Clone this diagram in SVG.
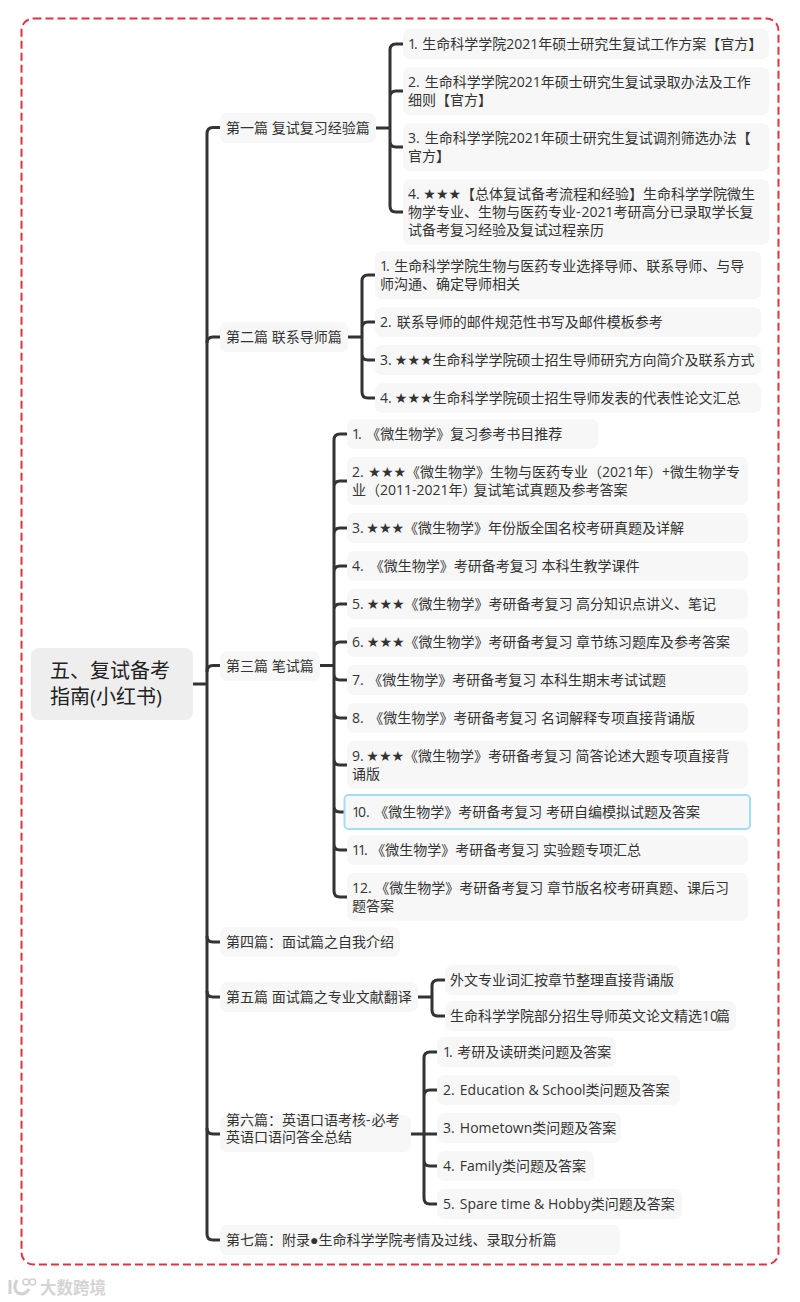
<svg xmlns="http://www.w3.org/2000/svg" width="800" height="1302" viewBox="0 0 800 1302">
<style>
text{font-family:"Open Sans","Noto Sans CJK SC",sans-serif;font-size:14px;fill:#333}
.n{fill:#f7f7f7}
.c{fill:none;stroke:#333;stroke-width:3;stroke-linecap:butt}
.root{font-size:20px;fill:#222}
.s{font-family:"DejaVu Sans",sans-serif}
.d{font-family:"Liberation Sans",sans-serif}
.t{letter-spacing:-2px}
</style>
<rect x="0" y="0" width="800" height="1302" fill="#fff"/>
<rect x="21.500" y="18.500" width="757" height="1246" rx="12" fill="none" stroke="#e0323f" stroke-width="2" stroke-dasharray="8 4"/>
<g id="connectors">
<path class="c" d="M193 684H207M220 127.500H213Q207 127.500 207 134V1234Q207 1240 213 1240H220"/>
<path class="c" d="M207 343Q207 337 213 337H220M207 672Q207 665.500 213 665.500H220M207 936Q207 942 213 942H220M207 991Q207 997 213 997H220M207 1128Q207 1134 213 1134H220"/>
<path class="c" d="M376 128H390M403 44H396Q390 44 390 50V206Q390 212 396 212H403M390 97Q390 91 396 91H403M390 141Q390 147 396 147H403"/>
<path class="c" d="M348 337H362M375 275H368Q362 275 362 281V392Q362 398 368 398H375M362 328Q362 322 368 322H375M362 354Q362 360 368 360H375"/>
<path class="c" d="M320 665.500H334M347 434H340Q334 434 334 440V891Q334 897 340 897H347M334 487Q334 481 340 481H347M334 534Q334 528 340 528H347M334 572Q334 566 340 566H347M334 610Q334 604 340 604H347M334 648Q334 642 340 642H347M334 674Q334 680 340 680H347M334 712Q334 718 340 718H347M334 759Q334 765 340 765H347M334 806Q334 812 340 812H347M334 844Q334 850 340 850H347"/>
<path class="c" d="M418 997H432M445 980H438Q432 980 432 986V1010Q432 1016 438 1016H445"/>
<path class="c" d="M411 1134H437M437 1052H430Q424 1052 424 1058V1198Q424 1204 430 1204H437M424 1096Q424 1090 430 1090H437M424 1160Q424 1166 430 1166H437"/>
</g>
<g id="root"><rect x="31" y="648" width="162" height="72" rx="8" fill="#eee"/><text class="root" x="50" y="678">五、复试备考</text><text class="root" x="50" y="704">指南(小红书)</text></g>
<g id="n1"><rect class="n" x="220" y="113" width="156" height="30" rx="7"/><text x="226" y="133">第一篇 复试复习经验篇</text></g>
<g id="n1-1"><rect class="n" x="403" y="29" width="366" height="30" rx="7"/><text x="408" y="49"><tspan class="t">1</tspan>. <tspan dx="1">生命科学学院2021年硕士研究生复试工作方案【官方】</tspan></text></g>
<g id="n1-2"><rect class="n" x="403" y="67" width="366" height="48" rx="7"/><text x="408" y="87">2. <tspan dx="1.500">生命科学学院2021年硕士研究生复试录取办法及工作</tspan></text><text x="408" y="105">细则【官方】</text></g>
<g id="n1-3"><rect class="n" x="403" y="123" width="366" height="48" rx="7"/><text x="408" y="143">3. <tspan dx="1.500">生命科学学院2021年硕士研究生复试调剂筛选办法【</tspan></text><text x="408" y="161">官方】</text></g>
<g id="n1-4"><rect class="n" x="403" y="179" width="366" height="66" rx="7"/><text x="408" y="199">4. <tspan class="s">★★★</tspan>【总体复试备考流程和经验】生命科学学院微生</text><text x="408" y="217">物学专业、生物与医药专业-<tspan dx="1">2021考研高分已录取学长复</tspan></text><text x="408" y="235">试备考复习经验及复试过程亲历</text></g>
<g id="n2"><rect class="n" x="220" y="322" width="128" height="30" rx="7"/><text x="226" y="342">第二篇 联系导师篇</text></g>
<g id="n2-1"><rect class="n" x="375" y="251" width="386" height="48" rx="7"/><text x="380" y="271"><tspan class="t">1</tspan>. <tspan dx="1">生命科学学院生物与医药专业选择导师、联系导师、与导</tspan></text><text x="380" y="289">师沟通、确定导师相关</text></g>
<g id="n2-2"><rect class="n" x="375" y="307" width="386" height="30" rx="7"/><text x="380" y="327">2. <tspan dx="1.500">联系导师的邮件规范性书写及邮件模板参考</tspan></text></g>
<g id="n2-3"><rect class="n" x="375" y="345" width="386" height="30" rx="7"/><text x="380" y="365">3. <tspan dx="-0.500" class="s">★★★</tspan>生命科学学院硕士招生导师研究方向简介及联系方式</text></g>
<g id="n2-4"><rect class="n" x="375" y="383" width="386" height="30" rx="7"/><text x="380" y="403">4. <tspan dx="-0.500" class="s">★★★</tspan>生命科学学院硕士招生导师发表的代表性论文汇总</text></g>
<g id="n3"><rect class="n" x="220" y="651" width="100" height="30" rx="7"/><text x="226" y="671">第三篇 笔试篇</text></g>
<g id="n3-1"><rect class="n" x="347" y="419" width="251" height="30" rx="7"/><text x="352" y="439"><tspan class="t">1</tspan>. <tspan dx="1">《微生物学》复习参考书目推荐</tspan></text></g>
<g id="n3-2"><rect class="n" x="347" y="457" width="401" height="48" rx="7"/><text x="352" y="477">2. <tspan dx="1" class="s">★★★</tspan>《微生物学》生物与医药专业（2021年）+微生物学专</text><text x="352" y="495">业（2011-2021年）<tspan dx="-3">复试笔试真题及参考答案</tspan></text></g>
<g id="n3-3"><rect class="n" x="347" y="513" width="401" height="30" rx="7"/><text x="352" y="533">3. <tspan dx="-1" class="s">★★★</tspan>《微生物学》年份版全国名校考研真题及详解</text></g>
<g id="n3-4"><rect class="n" x="347" y="551" width="401" height="30" rx="7"/><text x="352" y="571">4. <tspan dx="2.500">《微生物学》考研备考复习 本科生教学课件</tspan></text></g>
<g id="n3-5"><rect class="n" x="347" y="589" width="401" height="30" rx="7"/><text x="352" y="609">5. <tspan dx="-0.500" class="s">★★★</tspan>《微生物学》考研备考复习 高分知识点讲义、笔记</text></g>
<g id="n3-6"><rect class="n" x="347" y="627" width="401" height="30" rx="7"/><text x="352" y="647">6. <tspan dx="-0.500" class="s">★★★</tspan>《微生物学》考研备考复习 章节练习题库及参考答案</text></g>
<g id="n3-7"><rect class="n" x="347" y="665" width="401" height="30" rx="7"/><text x="352" y="685">7. <tspan dx="1">《微生物学》考研备考复习 本科生期末考试试题</tspan></text></g>
<g id="n3-8"><rect class="n" x="347" y="703" width="401" height="30" rx="7"/><text x="352" y="723">8. <tspan dx="2">《微生物学》考研备考复习 名词解释专项直接背诵版</tspan></text></g>
<g id="n3-9"><rect class="n" x="347" y="741" width="401" height="48" rx="7"/><text x="352" y="761">9. <tspan dx="-1" class="s">★★★</tspan>《微生物学》考研备考复习 简答论述大题专项直接背</text><text x="352" y="779">诵版</text></g>
<g id="n3-10"><rect x="344.500" y="795" width="405.500" height="34" rx="4" fill="#f7f7f7" stroke="#a5dcf5" stroke-width="2"/><text x="352" y="817"><tspan class="t">1</tspan>0. <tspan dx="1">《微生物学》考研备考复习 考研自编模拟试题及答案</tspan></text></g>
<g id="n3-11"><rect class="n" x="347" y="835" width="401" height="30" rx="7"/><text x="352" y="855"><tspan class="t">11</tspan>. 《微生物学》考研备考复习 实验题专项汇总</text></g>
<g id="n3-12"><rect class="n" x="347" y="873" width="401" height="48" rx="7"/><text x="352" y="893">12. 《微生物学》考研备考复习 章节版名校考研真题、课后习</text><text x="352" y="911">题答案</text></g>
<g id="n4"><rect class="n" x="220" y="927" width="180" height="30" rx="7"/><text x="226" y="947">第四篇：面试篇之自我介绍</text></g>
<g id="n5"><rect class="n" x="220" y="982" width="198" height="30" rx="7"/><text x="226" y="1002">第五篇 面试篇之专业文献翻译</text></g>
<g id="n5-1"><rect class="n" x="445" y="965" width="235" height="30" rx="7"/><text x="450" y="985">外文专业词汇按章节整理直接背诵版</text></g>
<g id="n5-2"><rect class="n" x="445" y="1001" width="291" height="30" rx="7"/><text x="450" y="1021">生命科学学院部分招生导师英文论文精选10<tspan dx="-2">篇</tspan></text></g>
<g id="n6"><rect class="n" x="220" y="1115" width="191" height="37" rx="7"/><text x="226" y="1125">第六篇：英语口语考核-<tspan dx="1">必考</tspan></text><text x="226" y="1142">英语口语问答全总结</text></g>
<g id="n6-1"><rect class="n" x="437" y="1037" width="179" height="30" rx="7"/><text x="443" y="1057"><tspan class="t">1</tspan>. <tspan dx="1">考研及读研类问题及答案</tspan></text></g>
<g id="n6-2"><rect class="n" x="437" y="1075" width="243" height="30" rx="7"/><text x="443" y="1095">2. <tspan dx="1.500">Education &amp; School类问题及答案</tspan></text></g>
<g id="n6-3"><rect class="n" x="437" y="1113" width="184" height="30" rx="7"/><text x="443" y="1133">3. <tspan dx="1.500">Hometown类问题及答案</tspan></text></g>
<g id="n6-4"><rect class="n" x="437" y="1151" width="157" height="30" rx="7"/><text x="443" y="1171">4. <tspan dx="1.500">Family类问题及答案</tspan></text></g>
<g id="n6-5"><rect class="n" x="437" y="1189" width="245" height="30" rx="7"/><text x="443" y="1209">5. <tspan dx="1.500">Spare time &amp; Hobby类问题及答案</tspan></text></g>
<g id="n7"><rect class="n" x="220" y="1225" width="400" height="30" rx="7"/><text x="226" y="1245">第七篇：附录<tspan class="d">●</tspan>生命科学学院考情及过线、录取分析篇</text></g>
<g id="watermark"><path d="M10 1280V1294M17 1280Q12 1289 18 1293Q25 1296 29 1289" fill="none" stroke="#d2d2d2" stroke-width="3"/><circle cx="26" cy="1282" r="3" fill="none" stroke="#d2d2d2" stroke-width="1.500"/><circle cx="32.500" cy="1282" r="3" fill="none" stroke="#d2d2d2" stroke-width="1.500"/><text x="40" y="1293.500" style="font-size:16.500px;font-weight:700;fill:#d4d4d4">大数跨境</text></g>
</svg>
